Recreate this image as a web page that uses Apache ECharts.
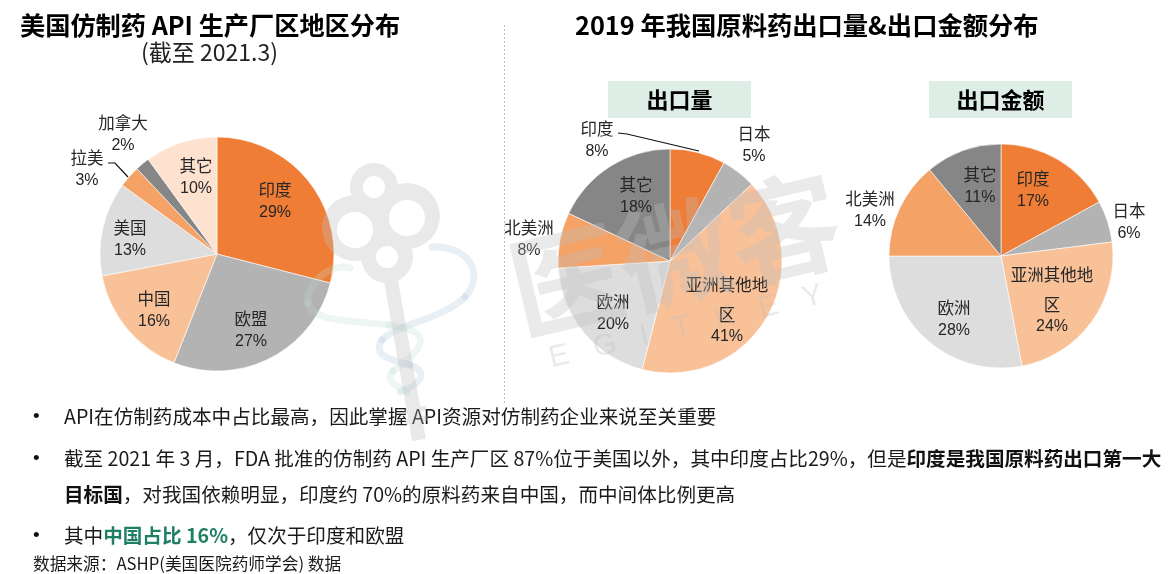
<!DOCTYPE html>
<html><head><meta charset="utf-8">
<style>html,body{margin:0;padding:0;background:#fff}#c{width:1168px;height:574px}</style>
<script src="https://cdn.jsdelivr.net/npm/echarts@6/dist/echarts.min.js"></script>
</head><body><div id="c"></div>
<script>
// ---- data ----
const apiRegions = ['印度','欧盟','中国','美国','拉美','加拿大','其它'];
const apiShares  = [29,27,16,13,3,2,10];
const volRegions = ['印度','日本','亚洲其他地\n区','欧洲','北美洲','其它'];
const volShares  = [8,5,41,20,8,18];
const amtRegions = ['印度','日本','亚洲其他地\n区','欧洲','北美洲','其它'];
const amtShares  = [17,6,24,28,14,11];
// ---- styling ----
const apiColors = ['#F07D36','#B3B3B3','#F8C198','#DDDDDD','#F4A266','#868686','#FDE2D0'];
const expColors = ['#F07D36','#B3B3B3','#F8C198','#DDDDDD','#F4A266','#868686'];
const apiLabelPos = [[275,201],[251,330],[154,310],[130,239],[87,169],[123,134],[196,177]];
const volLabelPos = [[597,140],[754,145],[727,307],[613,313],[529,239],[636,196]];
const amtLabelPos = [[1033,190],[1129,222],[1052,297],[954,319],[870,210],[980,186]];
const CJK = '"Noto Sans CJK SC","Liberation Sans",sans-serif';
const LAB = '"Liberation Sans","Noto Sans CJK SC",sans-serif';

function pie(names, values, colors, center, r, pos, leaders) {
  return {
    type:'pie', silent:true, animation:false, center:center, radius:r, startAngle:90, clockwise:true,
    avoidLabelOverlap:false,
    itemStyle:{borderColor:'#fff',borderWidth:0.6},
    label:{show:true,position:'inside',
      formatter:p=>{
        const ls=p.name.split('\n');
        return ls.map((s,i)=>(ls.length>1?(i===0?'{m|':'{k|'):'{n|')+s+'}').join('\n')+'\n{v|'+p.value+'%}';
      },
      rich:{n:{fontFamily:CJK,fontSize:16.5,color:'#262626',lineHeight:23,align:'center'},
            m:{fontFamily:CJK,fontSize:16.5,color:'#262626',lineHeight:39,align:'center'},
            k:{fontFamily:CJK,fontSize:16.5,color:'#262626',lineHeight:21,align:'center'},
            v:{fontFamily:LAB,fontSize:16,color:'#262626',lineHeight:23,align:'center'}},
      align:'center'},
    labelLine:{show:false},
    labelLayout:function(p){
      const o={x:pos[p.dataIndex][0],y:pos[p.dataIndex][1],align:'center',verticalAlign:'middle'};
      if(leaders[p.dataIndex]) o.labelLinePoints=leaders[p.dataIndex];
      return o;
    },
    data:names.map((n,i)=>{
      const d={name:n,value:values[i],itemStyle:{color:colors[i]}};
      if(leaders[i]){d.label={position:'outside'};d.labelLine={show:true,length:5,length2:5,lineStyle:{color:'#111',width:1.2}};}
      return d;
    })
  };
}
const text=(t,left,top,style)=>({text:t,left:left,top:top,padding:0,itemGap:0,textStyle:Object.assign({fontFamily:CJK,fontSize:19.6,fontWeight:'normal',color:'#1a1a1a',lineHeight:24},style||{})});
const bullet=(top)=>text('•',33,top,{fontFamily:LAB,fontSize:19,color:'#111'});
const richB={b:{fontFamily:CJK,fontSize:19.6,fontWeight:'bold',color:'#111',lineHeight:24},g:{fontFamily:CJK,fontSize:19.6,fontWeight:'bold',color:'#1F7F63',lineHeight:24}};
const wm='rgba(190,190,190,0.32)';
const snakeG='rgba(190,220,200,0.26)', snakeB='rgba(180,205,225,0.3)';
const curve=(c,p)=>({type:'bezierCurve',silent:true,z:49,shape:{x1:p[0],y1:p[1],cpx1:p[2],cpy1:p[3],cpx2:p[4],cpy2:p[5],x2:p[6],y2:p[7]},style:{fill:null,stroke:c,lineWidth:7,lineCap:'round'}});

// watermark key emblem, composited once so overlapping parts do not darken
function keyEmblem(){
  const cv=document.createElement('canvas');cv.width=1168;cv.height=574;
  const g=cv.getContext('2d');
  const disc=(x,y,r)=>{g.beginPath();g.arc(x,y,r,0,Math.PI*2);g.fill();};
  g.fillStyle='#bebebe';
  disc(355,228,33);disc(407,216,33);disc(374,187,24);disc(387,257,26);disc(380,222,22);
  g.strokeStyle='#bebebe';g.lineWidth=14;
  g.beginPath();g.moveTo(390,275);g.lineTo(419,440);g.stroke();
  g.lineWidth=5;
  g.beginPath();g.moveTo(403,412);g.lineTo(426,408);g.moveTo(405,422);g.lineTo(428,418);g.stroke();
  g.globalCompositeOperation='destination-out';
  g.fillStyle='#000';
  disc(355,230,18);disc(407,218,18);disc(374,187,11);disc(387,257,11);
  return cv;
}
const chart=echarts.init(document.getElementById('c'),null,{renderer:'canvas'});
chart.setOption({
  backgroundColor:'#fff',animation:false,
  title:[
    text('美国仿制药 API 生产厂区地区分布',20,10,{fontSize:25.2,fontWeight:'bold',color:'#000',lineHeight:30}),
    text('(截至 2021.3)',141,38,{fontSize:23,lineHeight:28,color:'#222'}),
    text('2019 年我国原料药出口量&出口金额分布',575,10,{fontSize:25.3,fontWeight:'bold',color:'#000',lineHeight:30}),
    bullet(405),
    text('API在仿制药成本中占比最高，因此掌握 API资源对仿制药企业来说至关重要',64,405),
    bullet(447),
    text('截至 2021 年 3 月，FDA 批准的仿制药 API 生产厂区 87%位于美国以外，其中印度占比29%，但是{b|印度是我国原料药出口第一大}',64,447,{rich:richB}),
    text('{b|目标国}，对我国依赖明显，印度约 70%的原料药来自中国，而中间体比例更高',64,483,{rich:richB}),
    bullet(524),
    text('其中{g|中国占比 16%}，仅次于印度和欧盟',64,524,{rich:richB}),
    text('数据来源：ASHP(美国医院药师学会) 数据',33,553,{fontSize:16.7,lineHeight:22})
  ],
  graphic:[
    {type:'line',silent:true,z:1,shape:{x1:504.5,y1:25,x2:504.5,y2:405},style:{stroke:'#bdbdbd',lineWidth:1,lineDash:[2,2]}},
    {type:'rect',silent:true,z:1,shape:{x:608,y:81,width:143,height:37},style:{fill:'#DEEDE5'}},
    {type:'text',silent:true,z:2,x:679.5,y:99.5,style:{text:'出口量',fontFamily:CJK,fontSize:22,fontWeight:'bold',fill:'#000',align:'center',verticalAlign:'middle'}},
    {type:'rect',silent:true,z:1,shape:{x:929,y:81,width:143,height:37},style:{fill:'#DEEDE5'}},
    {type:'text',silent:true,z:2,x:1000.5,y:99.5,style:{text:'出口金额',fontFamily:CJK,fontSize:22,fontWeight:'bold',fill:'#000',align:'center',verticalAlign:'middle'}},
    // watermark
    curve(snakeG,[350,268,330,262,305,285,308,303]),
    curve(snakeG,[308,303,312,322,350,320,389,325]),
    curve(snakeG,[389,325,430,330,430,345,393,371]),
    curve(snakeG,[393,371,385,380,395,385,407,392]),
    curve(snakeB,[432,247,470,245,485,275,465,297]),
    curve(snakeB,[465,297,445,318,395,325,382,340]),
    curve(snakeB,[382,340,372,355,390,360,410,365]),
    curve(snakeB,[410,365,430,372,420,385,400,392]),
    {type:'image',silent:true,z:50,style:{image:keyEmblem(),x:0,y:0,width:1168,height:574,opacity:0.32}},
    {type:'text',silent:true,z:50,x:675,y:254,rotation:0.232,style:{text:'医微客',fontFamily:CJK,fontSize:112,fontWeight:'bold',fill:wm,align:'center',verticalAlign:'middle'}},
    {type:'text',silent:true,z:50,x:686,y:327,rotation:0.232,style:{text:'E   G   I   T   K   E   Y',fontFamily:LAB,fontSize:30,fontWeight:'normal',fill:wm,align:'center',verticalAlign:'middle'}}
  ],
  series:[
    pie(apiRegions,apiShares,apiColors,[217,254],117,apiLabelPos,{4:[[108,163],[115,163],[128,177]]}),
    pie(volRegions,volShares,expColors,[670,261],112,volLabelPos,{0:[[618,133],[627,134],[699,151]]}),
    pie(amtRegions,amtShares,expColors,[1001,256],112,amtLabelPos,{})
  ]
});
</script></body></html>
